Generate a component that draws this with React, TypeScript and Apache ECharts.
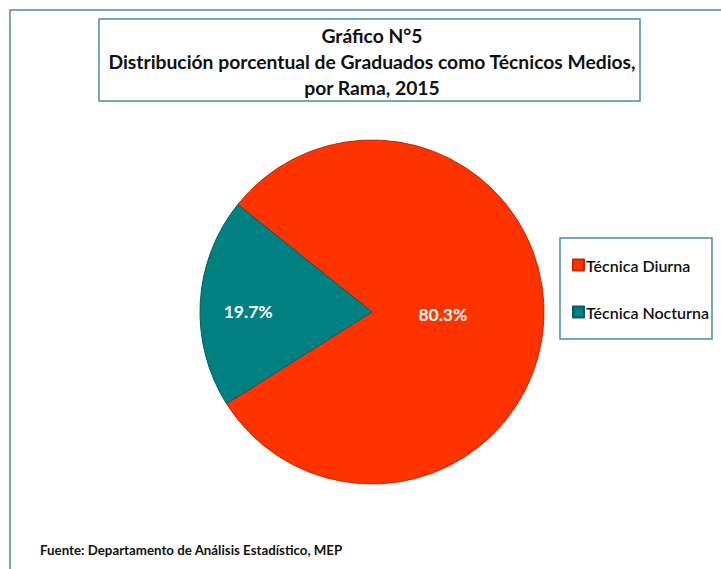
import React, { useEffect, useRef } from "react";
import * as echarts from "echarts";

const categories = ["Técnica Diurna", "Técnica Nocturna"];
const values = [80.3, 19.7];
const colors = ["#FF3300", "#008080"];
const borderColors = ["#C42800", "#006060"];
const titleLines = [
  "Gráfico N°5",
  "Distribución porcentual de Graduados como Técnicos Medios,",
  "por Rama, 2015",
];
const sourceText = "Fuente: Departamento de Análisis Estadístico, MEP";

const FONT = "Lato, 'Noto Sans', sans-serif";

export default function App() {
  const ref = useRef<HTMLDivElement>(null);
  useEffect(() => {
    if (!ref.current) return;
    const chart = echarts.init(ref.current, null, { renderer: "svg" });
    const labelShift = [
      { dx: -18, dy: -3 },
      { dx: -35, dy: 5 },
    ];
    chart.setOption({
      animation: false,
      backgroundColor: "#ffffff",
      title: {
        text: titleLines.join("\n"),
        left: 367,
        top: 17,
        textAlign: "center",
        textStyle: {
          fontFamily: FONT,
          fontWeight: "bold",
          fontSize: 19.3,
          lineHeight: 26,
          color: "#111111",
        },
      },
      legend: {
        orient: "vertical",
        left: 560,
        top: 238,
        padding: [19, 3, 19, 12],
        itemWidth: 11,
        itemHeight: 11,
        itemGap: 31,
        icon: "rect",
        borderColor: "#4A9090",
        borderWidth: 1.5,
        data: categories,
        textStyle: {
          fontFamily: FONT,
          fontSize: 16,
          fontWeight: 600,
          color: "#111111",
          padding: [0, 0, 0, -3],
        },
      },
      graphic: [
        {
          type: "rect",
          shape: { x: 10, y: 10, width: 740, height: 600 },
          style: { fill: "none", stroke: "#4A9090", lineWidth: 1.5 },
          silent: true,
        },
        {
          type: "rect",
          shape: { x: 99, y: 19, width: 541, height: 82 },
          style: { fill: "none", stroke: "#4A9090", lineWidth: 1.5 },
          silent: true,
        },
        {
          type: "text",
          x: 40,
          y: 543,
          style: {
            text: sourceText,
            font: `bold 13.3px ${FONT}`,
            fill: "#111111",
          },
        },
      ],
      series: [
        {
          type: "pie",
          center: [372, 312],
          radius: 172,
          startAngle: 141.3,
          clockwise: true,
          data: categories.map((name, i) => ({
            name,
            value: values[i],
            itemStyle: {
              color: colors[i],
              borderColor: borderColors[i],
              borderWidth: 1,
            },
          })),
          label: {
            show: true,
            position: "inside",
            formatter: (p: any) => `${p.value.toFixed(1)}%`,
            color: "#ffffff",
            fontFamily: FONT,
            fontWeight: "bold",
            fontSize: 17.5,
          },
          labelLayout: (p: any) => labelShift[p.dataIndex],
          labelLine: { show: false },
          emphasis: { disabled: true },
        },
      ],
    });
    return () => chart.dispose();
  }, []);
  return (
    <div
      ref={ref}
      style={{ position: "fixed", left: 0, top: 0, width: 721, height: 569 }}
    />
  );
}
